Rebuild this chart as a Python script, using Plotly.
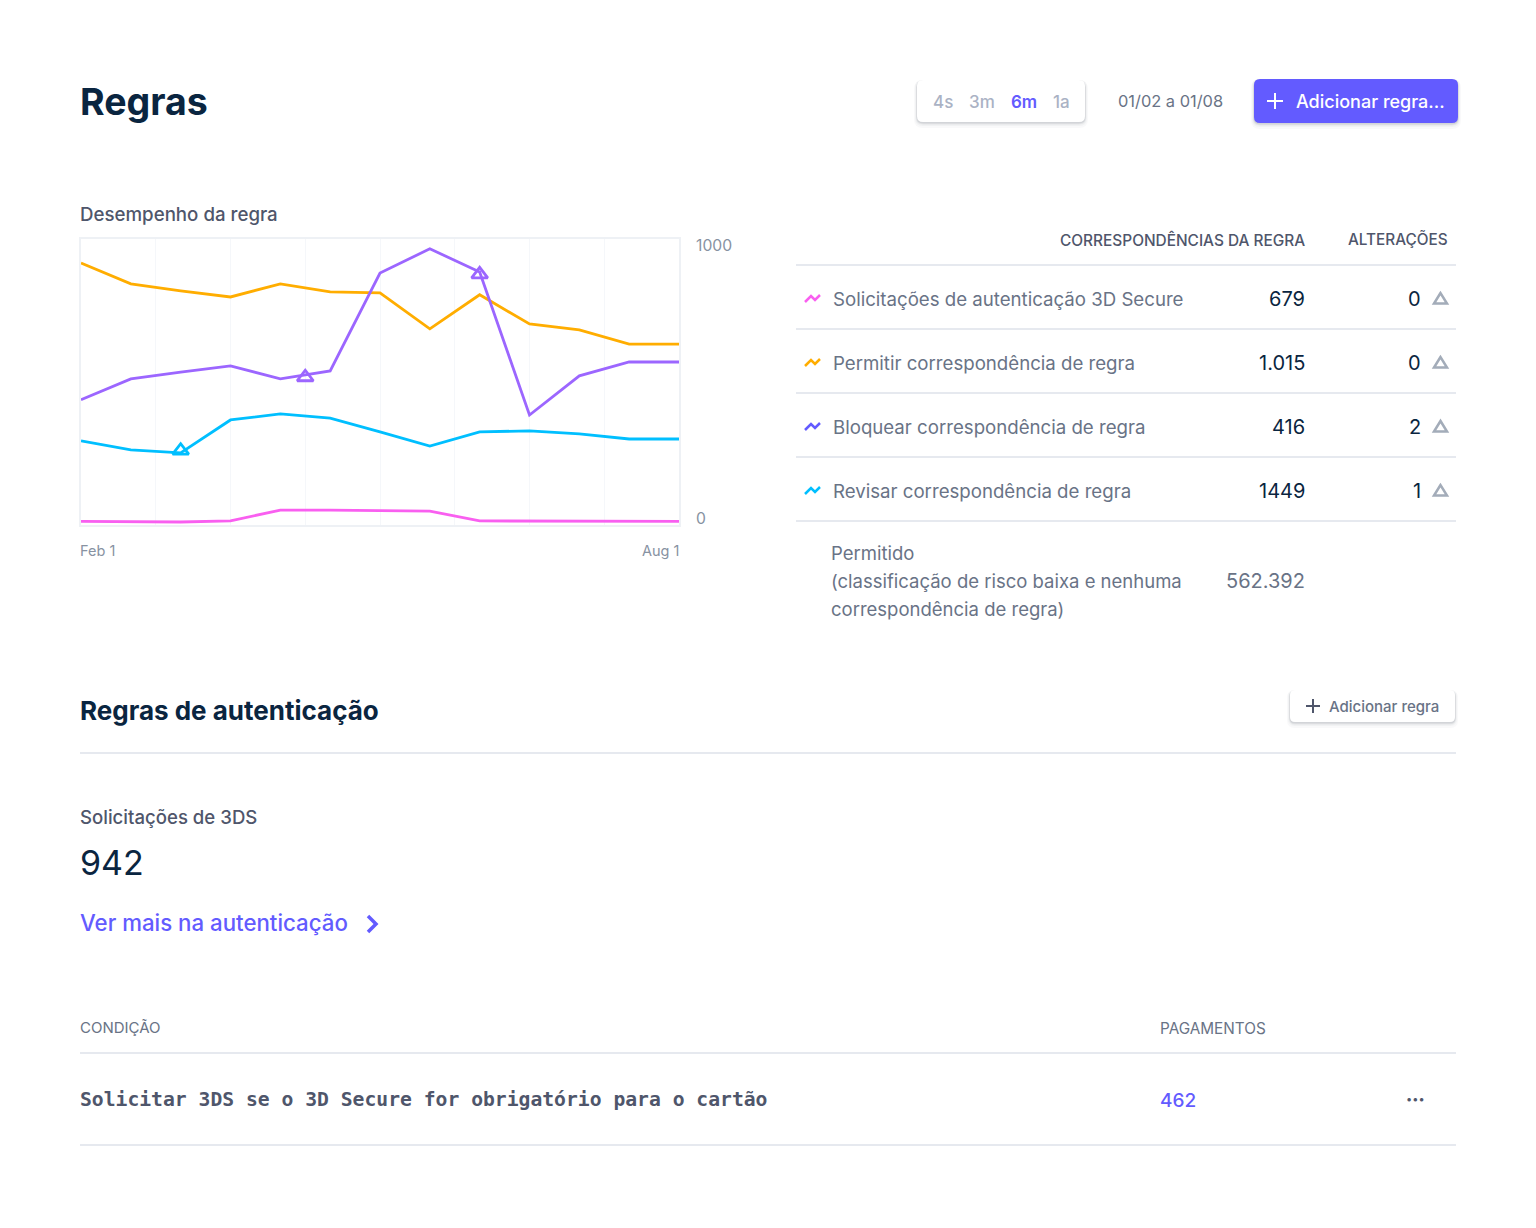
import plotly.graph_objects as go

W, H = 1536, 1228
FONT = "Inter"
INK = "#0a2540"; DARK = "#4f566b"; GRAY = "#697386"; LIGHT = "#aab2c4"; RULE = "#e6e9ef"; VIOLET = "#635bff"

# ---- chart data
x_index = [0, 1, 2, 3, 4, 5, 6, 7, 8, 9, 10, 11, 12]
allow_values = [952, 875, 849, 827, 875, 846, 842, 710, 835, 728, 706, 654, 654]
block_values = [449, 526, 551, 574, 526, 555, 915, 1004, 919, 393, 537, 588, 588]
review_values = [298, 265, 254, 375, 397, 382, 331, 279, 331, 335, 324, 305, 305]
auth_values = [2, 0, 0, 4, 44, 44, 42, 40, 4, 4, 3, 2, 2]
block_marker_x = [4.5, 8]
block_marker_y = [532, 910]
review_marker_x = [2]
review_marker_y = [262]
grid_x = [1.5, 3, 4.5, 6, 7.5, 9, 10.5]
x_labels = ["Feb 1", "Aug 1"]
y_labels = [1000, 0]

# ---- table data
row_labels = ["Solicitações de autenticação 3D Secure", "Permitir correspondência de regra",
              "Bloquear correspondência de regra", "Revisar correspondência de regra"]
row_matches = ["679", "1.015", "416", "1449"]
row_changes = ["0", "0", "2", "1"]
row_colors = ["#f95ff0", "#ffad00", "#635bff", "#00bfff"]
range_labels = ["4s", "3m", "6m", "1a"]

def px(x): return x / W
def py(y): return 1 - y / H

shapes, notes = [], []

def text(x, y, s, size, color, anchor="left", weight=400, family=FONT):
    dx = {"left": -1, "right": 1, "center": 0}[anchor]
    notes.append(dict(xref="paper", yref="paper", x=px(x + dx), y=py(y), text=s,
                      showarrow=False, xanchor=anchor, yanchor="middle", borderpad=0,
                      font=dict(family=family, size=size, color=color, weight=weight)))

def path(d, line=None, width=0, fill=None):
    shapes.append(dict(type="path", xref="paper", yref="paper", path=d, fillcolor=fill or "rgba(0,0,0,0)",
                       line=dict(color=line or "rgba(0,0,0,0)", width=width)))

def pts(points, close=False):
    s = "M " + " L ".join(f"{px(a):.5f},{py(b):.5f}" for a, b in points)
    return s + (" Z" if close else "")

def rrect(x0, y0, x1, y1, r, fill, line=None, width=0):
    d = (f"M {px(x0+r)},{py(y0)} L {px(x1-r)},{py(y0)} Q {px(x1)},{py(y0)} {px(x1)},{py(y0+r)} "
         f"L {px(x1)},{py(y1-r)} Q {px(x1)},{py(y1)} {px(x1-r)},{py(y1)} L {px(x0+r)},{py(y1)} "
         f"Q {px(x0)},{py(y1)} {px(x0)},{py(y1-r)} L {px(x0)},{py(y0+r)} Q {px(x0)},{py(y0)} {px(x0+r)},{py(y0)} Z")
    path(d, line, width, fill)

def shadow_box(x0, y0, x1, y1, r, fill):
    for grow, dy, alpha in [(3, 3, .03), (2, 2, .04), (1, 1.5, .07), (.5, 1, .10)]:
        rrect(x0 - grow, y0 - grow + dy, x1 + grow, y1 + grow + dy, r + grow, f"rgba(60,66,87,{alpha})")
    rrect(x0, y0, x1, y1, r, fill)

def rule(x0, x1, y, width=2):
    path(pts([(x0, y), (x1, y)]), RULE, width)

# ---- header
text(80, 101.5, "Regras", 37.5, INK, weight=700)
shadow_box(917, 80, 1085, 122, 6, "white")
for lx, lab in zip([943, 982, 1024, 1061], range_labels):
    active = lab == "6m"
    text(lx, 102, lab, 17, VIOLET if active else LIGHT, "center", weight=600 if active else 500)
text(1118, 101, "01/02 a 01/08", 16.4, GRAY)
shadow_box(1254, 79, 1458, 123, 6, VIOLET)
path(pts([(1267, 101), (1283, 101)]), "white", 2)
path(pts([(1275, 93), (1275, 109)]), "white", 2)
text(1296, 101, "Adicionar regra...", 18, "white", weight=500)

# ---- chart heading
text(80, 215, "Desempenho da regra", 18.7, DARK, weight=500)

# ---- table
text(1305, 240, "CORRESPONDÊNCIAS DA REGRA", 15.4, DARK, "right", weight=500)
text(1448, 240, "ALTERAÇÕES", 15.3, DARK, "right", weight=500)
for y in [265, 329, 393, 457, 521]:
    rule(796, 1456, y)
for i, y in enumerate([299, 363, 427, 491]):
    path(pts([(805, y + 3), (811, y - 3), (815, y + 1), (820, y - 4)]), row_colors[i], 2.5)
    text(833, y, row_labels[i], 18.65, GRAY)
    text(1305, y, row_matches[i], 20, INK, "right")
    text(1421, y, row_changes[i], 20, INK, "right")
    path(pts([(1440.5, y - 6), (1434, y + 4.5), (1447, y + 4.5)], True), "#a3acb9", 2.5)
text(831, 553, "Permitido", 18.5, GRAY)
text(831, 581, "(classificação de risco baixa e nenhuma", 18.5, GRAY)
text(831, 609, "correspondência de regra)", 18.5, GRAY)
text(1305, 581, "562.392", 20, GRAY, "right")

# ---- auth section
text(80, 710, "Regras de autenticação", 26, INK, weight=700)
shadow_box(1290, 690, 1455, 722, 5, "white")
path(pts([(1306, 706), (1320, 706)]), DARK, 2)
path(pts([(1313, 699), (1313, 713)]), DARK, 2)
text(1329, 706, "Adicionar regra", 15, GRAY, weight=500)
rule(80, 1456, 753)
text(80, 817, "Solicitações de 3DS", 18.6, DARK, weight=500)
text(80, 862, "942", 34, INK)
text(80, 922, "Ver mais na autenticação", 22.25, VIOLET, weight=500)
path(pts([(368, 916), (376, 924), (368, 932)]), VIOLET, 3.5)
text(80, 1027, "CONDIÇÃO", 15, GRAY)
text(1160, 1028, "PAGAMENTOS", 15.3, GRAY)
rule(80, 1456, 1053)
text(80, 1099, "Solicitar 3DS se o 3D Secure for obrigatório para o cartão", 19.7, DARK, weight=700, family="DejaVu Sans Mono")
text(1160, 1100.5, "462", 19, VIOLET, weight=500)
text(1415, 1099, "•••", 11, DARK, "center")
rule(80, 1456, 1145)

# ---- axis labels tied to the scales
label_font = dict(family=FONT, size=14.5, color="#8792a2")
notes.append(dict(xref="x", yref="paper", x=0, y=py(550.5), text=x_labels[0], showarrow=False, xanchor="left", yanchor="middle",
                  xshift=-3, font=label_font))
notes.append(dict(xref="x", yref="paper", x=12, y=py(550.5), text=x_labels[1], showarrow=False, xanchor="right", yanchor="middle",
                  xshift=2, font=label_font))
for v in y_labels:
    notes.append(dict(xref="paper", yref="y", x=px(694), y=v, text=str(v), showarrow=False, xanchor="left", yanchor="middle",
                      yshift=4, font=dict(family=FONT, size=15.7, color="#8792a2")))

fig = go.Figure()
for vals, color in [(allow_values, "#ffad00"), (block_values, "#9c66ff"), (review_values, "#00bfff"), (auth_values, "#f95ff0")]:
    fig.add_trace(go.Scatter(x=x_index, y=vals, mode="lines", line=dict(color=color, width=2.8), showlegend=False, hoverinfo="skip"))
for mx, my, color in [(block_marker_x, block_marker_y, "#9c66ff"), (review_marker_x, review_marker_y, "#00bfff")]:
    fig.add_trace(go.Scatter(x=mx, y=my, mode="markers", showlegend=False, hoverinfo="skip",
                             marker=dict(symbol="triangle-up-open", size=14, color=color, line=dict(color=color, width=2.8))))

fig.update_layout(
    width=W, height=H, margin=dict(l=0, r=0, t=0, b=0), paper_bgcolor="white", plot_bgcolor="white",
    shapes=shapes, annotations=notes, showlegend=False,
    xaxis=dict(domain=[px(81), px(679)], range=[0, 12], tickvals=grid_x, showticklabels=False, ticks="",
               showgrid=True, gridcolor="#f5f7fa", gridwidth=1, zeroline=False, showline=True, linecolor="#eef1f5", linewidth=1.5, mirror=True),
    yaxis=dict(domain=[py(525), py(239)], range=[-11, 1040], tickvals=y_labels, showticklabels=False, ticks="",
               showgrid=False, zeroline=False, showline=True, linecolor="#eef1f5", linewidth=1.5, mirror=True),
)
fig.write_html("out.html", config={"displayModeBar": False},
               post_script="document.body.style.margin='0';document.body.style.overflow='hidden';window.dispatchEvent(new Event('resize'));")
